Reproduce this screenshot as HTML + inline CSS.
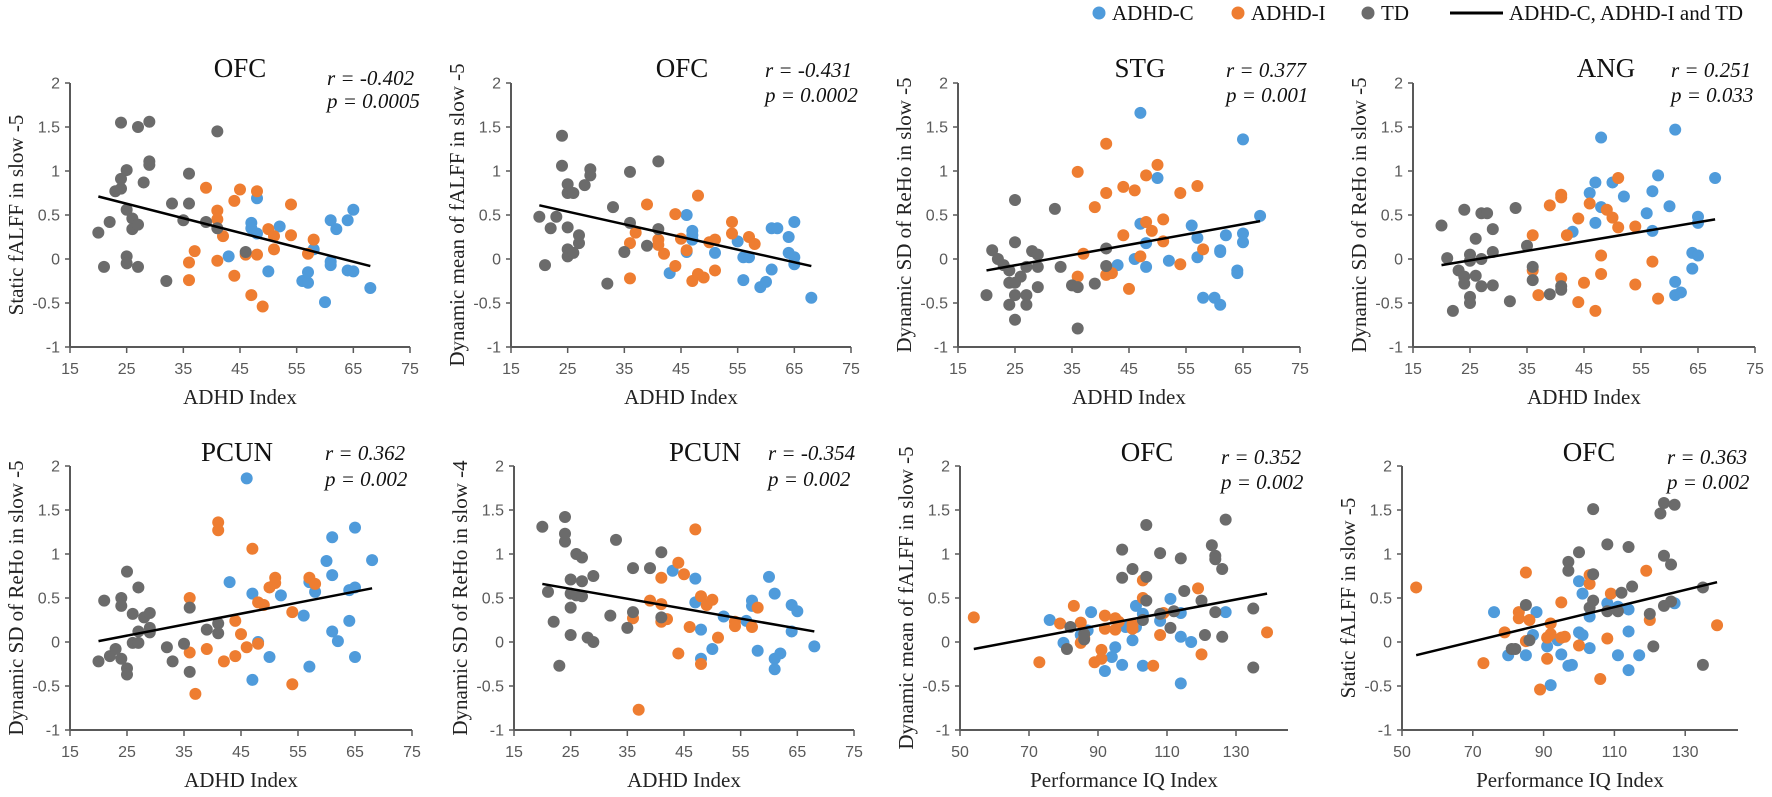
<!DOCTYPE html>
<html><head><meta charset="utf-8"><style>
html,body{margin:0;padding:0;background:#fff;}
svg{display:block;}
</style></head><body>
<svg id="fig" width="1772" height="797" viewBox="0 0 1772 797" xmlns="http://www.w3.org/2000/svg">
<g font-family="Liberation Serif, serif" font-size="21" fill="#111">
 <circle cx="1099" cy="13" r="6.5" fill="#4f9bdb"/>
 <text x="1112" y="20">ADHD-C</text>
 <circle cx="1238" cy="13" r="6.5" fill="#ee7d31"/>
 <text x="1251" y="20">ADHD-I</text>
 <circle cx="1368" cy="13" r="6.5" fill="#6b6b6b"/>
 <text x="1381" y="20">TD</text>
 <line x1="1450" y1="13" x2="1503" y2="13" stroke="#000" stroke-width="3"/>
 <text x="1509" y="20">ADHD-C, ADHD-I and TD</text>
</g>
</svg>
<script>
// ---- Panel 1 data ----
const p1TdX=[20,21,22,23,24,24,24,25,25,25,25,26,26,27,27,27,28,29,29,29,32,33,35,36,36,39,41,41,46];
const p1TdY=[0.30,-0.09,0.42,0.77,0.80,0.91,1.55,1.01,0.56,0.03,-0.05,0.46,0.34,1.50,-0.09,0.39,0.87,1.56,1.11,1.07,-0.25,0.63,0.44,0.63,0.97,0.42,1.45,0.35,0.08];
const p1AiX=[36,36,37,39,41,41,41,42,44,44,45,46,47,48,48,49,50,51,51,54,54,57,58];
const p1AiY=[-0.04,-0.24,0.09,0.81,0.55,0.45,-0.02,0.26,0.66,-0.19,0.79,0.05,-0.41,0.77,0.05,-0.54,0.34,0.26,0.11,0.62,0.27,0.06,0.22];
const p1AcX=[43,47,47,48,48,50,52,56,57,57,58,60,61,61,61,62,64,64,65,65,68];
const p1AcY=[0.03,0.41,0.35,0.69,0.29,-0.14,0.37,-0.25,-0.27,-0.15,0.11,-0.49,0.44,-0.03,-0.07,0.34,0.44,-0.13,0.56,-0.14,-0.33];
const p1FitX=[20,68];
const p1FitY=[0.71,-0.08];
// ---- Panel 2 ----
const p2TdX=[20,21,22,23,24,24,25,25,25,25,25,26,26,27,27,28,29,29,32,33,35,36,36,39,41,41];
const p2TdY=[0.48,-0.07,0.35,0.48,1.40,1.06,0.85,0.75,0.36,0.11,0.03,0.07,0.75,0.27,0.18,0.84,1.02,0.95,-0.28,0.59,0.08,0.99,0.41,0.15,1.11,0.34];
const p2AiX=[36,36,37,39,41,41,42,44,44,45,46,47,48,48,49,50,51,51,54,54,57,58];
const p2AiY=[-0.22,0.18,0.30,0.62,0.22,0.16,0.06,0.51,-0.08,0.23,0.10,-0.25,0.72,-0.17,-0.21,0.19,0.22,-0.13,0.42,0.29,0.25,0.17];
const p2AcX=[43,46,46,47,47,47,51,55,56,56,57,59,61,61,60,62,64,64,65,65,65,68];
const p2AcY=[-0.16,0.08,0.50,0.27,0.32,0.22,0.07,0.20,0.02,-0.24,0.02,-0.32,0.35,-0.12,-0.26,0.35,0.25,0.07,0.42,-0.06,0.02,-0.44];
const p2FitX=[20,68];
const p2FitY=[0.61,-0.08];
// ---- Panel 3 ----
const p3TdX=[20,21,22,23,24,24,24,25,25,25,25,26,27,27,27,28,29,29,29,32,33,35,36,36,39,41,41,25];
const p3TdY=[-0.41,0.10,0,-0.07,-0.13,-0.27,-0.52,0.19,-0.27,-0.41,-0.69,-0.20,-0.09,-0.41,-0.52,0.09,0.05,-0.09,-0.32,0.57,-0.09,-0.30,-0.32,-0.79,-0.28,0.12,-0.08,0.67];
const p3AiX=[36,36,37,39,41,41,41,42,44,44,45,46,47,48,48,49,50,51,51,54,54,57,58];
const p3AiY=[0.99,-0.20,0.06,0.59,1.31,0.75,-0.18,-0.16,0.82,0.27,-0.34,0.78,0.03,0.95,0.42,0.32,1.07,0.45,0.20,0.75,-0.06,0.83,0.11];
const p3AcX=[43,46,47,47,48,48,50,52,56,57,57,58,60,61,61,62,64,64,65,65,65,68,61];
const p3AcY=[-0.07,0,1.66,0.40,0.18,-0.09,0.92,-0.02,0.38,0.24,0.02,-0.44,-0.44,0.10,-0.52,0.27,-0.13,-0.16,1.36,0.29,0.19,0.49,0.08];
const p3FitX=[20,68];
const p3FitY=[-0.13,0.43];
// ---- Panel 4 ----
const p4TdX=[20,21,22,23,24,24,24,25,25,25,25,26,26,27,27,27,28,29,29,29,32,33,35,36,36,39,41,41];
const p4TdY=[0.38,0.01,-0.59,-0.13,0.56,-0.20,-0.28,0.05,-0.02,-0.43,-0.50,0.23,-0.19,0.52,0,-0.31,0.52,0.34,0.08,-0.30,-0.48,0.58,0.15,-0.09,-0.24,-0.40,-0.31,-0.35];
const p4AiX=[36,36,37,39,41,41,41,42,44,44,45,46,47,48,48,49,50,51,51,54,54,57,58];
const p4AiY=[0.27,-0.13,-0.41,0.61,0.73,0.70,-0.22,0.27,0.46,-0.49,-0.27,0.63,-0.59,0.04,-0.17,0.56,0.47,0.92,0.36,0.37,-0.29,-0.03,-0.45];
const p4AcX=[43,46,47,47,48,48,50,52,56,57,57,58,60,61,61,61,62,64,64,65,65,65,68];
const p4AcY=[0.31,0.75,0.87,0.41,1.38,0.59,0.87,0.71,0.52,0.77,0.32,0.95,0.60,1.47,-0.26,-0.41,-0.38,0.07,-0.11,0.48,0.41,0.04,0.92];
const p4FitX=[20,68];
const p4FitY=[-0.07,0.45];
// ---- Panel 5 ----
const p5TdX=[20,21,22,23,24,24,24,25,25,25,26,26,27,27,27,28,29,29,29,32,33,35,36,36,39,41,41];
const p5TdY=[-0.22,0.47,-0.16,-0.08,0.50,0.41,-0.19,0.80,-0.30,-0.37,0.32,-0.01,0.62,0.12,-0.01,0.28,0.33,0.16,0.11,-0.06,-0.22,-0.02,0.39,-0.34,0.14,0.21,0.10];
const p5AiX=[36,36,37,39,41,41,42,44,44,45,46,47,48,48,49,50,51,51,54,54,57,58];
const p5AiY=[0.50,-0.12,-0.59,-0.08,1.36,1.27,-0.22,0.24,-0.16,0.09,-0.06,1.06,0.45,-0.02,0.42,0.62,0.73,0.67,0.34,-0.48,0.73,0.66];
const p5AcX=[43,46,47,47,48,50,52,56,57,57,58,60,61,61,61,62,64,64,65,65,65,68];
const p5AcY=[0.68,1.86,0.55,-0.43,0,-0.17,0.53,0.30,0.68,-0.28,0.57,0.92,1.19,0.76,0.12,0.01,0.59,0.24,1.30,0.62,-0.17,0.93];
const p5FitX=[20,68];
const p5FitY=[0.01,0.61];
// ---- Panel 6 ----
const p6TdX=[20,21,22,23,24,24,24,25,25,25,25,26,26,27,27,27,28,29,29,32,33,35,36,36,39,41,41];
const p6TdY=[1.31,0.57,0.23,-0.27,1.42,1.23,1.14,0.71,0.55,0.39,0.08,1.0,0.53,0.96,0.69,0.52,0.05,0.75,0,0.30,1.16,0.16,0.84,0.34,0.84,1.02,0.28];
const p6AiX=[36,37,39,41,41,41,42,44,44,45,46,47,48,48,49,50,51,54,54,57,58];
const p6AiY=[0.27,-0.77,0.47,0.73,0.43,0.23,0.26,0.90,-0.13,0.77,0.17,1.28,0.52,-0.25,0.42,0.48,0.05,0.23,0.18,0.17,0.39];
const p6AcX=[43,47,47,48,48,50,52,56,57,57,58,60,61,61,61,62,64,64,65,68];
const p6AcY=[0.81,0.72,0.45,0.14,-0.19,-0.08,0.29,0.24,0.47,0.41,-0.10,0.74,0.55,-0.19,-0.31,-0.13,0.42,0.12,0.35,-0.05];
const p6FitX=[20,68];
const p6FitY=[0.66,0.12];
// ---- Panel 7 ----
const p7TdX=[81,82,86,86,97,97,100,103,104,104,104,108,108,111,112,114,115,120,121,123,124,124,124,126,126,127,135,135];
const p7TdY=[-0.08,0.17,0.03,0.09,1.05,0.73,0.83,0.25,1.33,0.74,0.47,1.01,0.32,0.16,0.35,0.95,0.58,0.47,0.08,1.10,0.98,0.94,0.34,0.83,0.06,1.39,0.38,-0.29];
const p7AiX=[54,73,79,83,85,85,86,89,91,91,92,92,95,95,96,100,100,103,103,106,108,109,119,120,139];
const p7AiY=[0.28,-0.23,0.21,0.41,0.22,-0.01,0.05,-0.23,-0.09,-0.19,0.30,0.15,0.27,0.14,0.23,0.20,0.15,0.70,0.50,-0.27,0.08,0.33,0.61,-0.14,0.11];
const p7AcX=[76,80,85,87,88,92,94,95,97,98,100,101,101,103,103,108,111,114,114,117,114,127];
const p7AcY=[0.25,-0.01,0.08,0.13,0.34,-0.33,-0.17,-0.06,-0.26,0.17,0.02,0.41,0.17,0.32,-0.27,0.24,0.49,0.33,0.06,0,-0.47,0.34];
const p7FitX=[54,139];
const p7FitY=[-0.08,0.55];
// ---- Panel 8 ----
const p8TdX=[81,82,85,86,97,97,100,103,104,104,104,108,108,111,112,114,115,120,121,123,124,124,124,126,126,127,135,135];
const p8TdY=[-0.08,-0.08,0.42,0.02,0.91,0.81,1.02,0.39,1.51,0.77,0.47,1.11,0.35,0.35,0.56,1.08,0.63,0.32,-0.05,1.46,1.58,0.98,0.41,0.88,0.46,1.56,0.62,-0.26];
const p8AiX=[54,73,79,83,83,85,85,86,89,91,91,92,92,95,95,96,100,103,103,106,108,109,119,120,139];
const p8AiY=[0.62,-0.24,0.11,0.34,0.27,0.79,0.01,0.25,-0.54,-0.19,0.05,0.21,0.09,0.45,0.05,0.06,-0.04,0.76,0.66,-0.42,0.04,0.55,0.81,0.25,0.19];
const p8AcX=[76,80,85,87,88,91,92,94,95,97,98,100,100,101,101,103,103,108,111,111,114,114,114,117,127];
const p8AcY=[0.34,-0.15,-0.15,0.08,0.34,-0.05,-0.49,0.02,-0.14,-0.27,-0.26,0.69,0.11,0.55,0.08,0.29,-0.07,0.44,0.40,-0.15,0.37,0.12,-0.32,-0.15,0.44];
const p8FitX=[54,139];
const p8FitY=[-0.15,0.68];

const yTicks=[2,1.5,1,0.5,0,-0.5,-1];
const adhdTicks=[15,25,35,45,55,65,75];
const iqTicks=[50,70,90,110,130];
const titles=["OFC","OFC","STG","ANG","PCUN","PCUN","OFC","OFC"];
const rVals=["-0.402","-0.431","0.377","0.251","0.362","-0.354","0.352","0.363"];
const pVals=["0.0005","0.0002","0.001","0.033","0.002","0.002","0.002","0.002"];
const yTitles=["Static fALFF in slow -5","Dynamic mean of fALFF in slow -5","Dynamic SD of ReHo in slow -5","Dynamic SD of ReHo in slow -5","Dynamic SD of ReHo in slow -5","Dynamic SD of ReHo in slow -4","Dynamic mean of fALFF in slow -5","Static fALFF in slow -5"];

const NS="http://www.w3.org/2000/svg";
const svg=document.getElementById('fig');
function mk(tag,attrs,parent,text){
  const e=document.createElementNS(NS,tag);
  for(const k in attrs)e.setAttribute(k,attrs[k]);
  if(text!==undefined)e.textContent=text;
  parent.appendChild(e);return e;
}
const layouts=[
 {L:70,R:410,T:83,B:347,xmin:15,xmax:75,ticks:adhdTicks,xt:"ADHD Index",tdx:170,sx:257,ry:78,py:101},
 {L:511,R:851,T:83,B:347,xmin:15,xmax:75,ticks:adhdTicks,xt:"ADHD Index",tdx:171,sx:254,ry:70,py:95},
 {L:958,R:1300,T:83,B:347,xmin:15,xmax:75,ticks:adhdTicks,xt:"ADHD Index",tdx:182,sx:268,ry:70,py:95},
 {L:1413,R:1755,T:83,B:347,xmin:15,xmax:75,ticks:adhdTicks,xt:"ADHD Index",tdx:193,sx:258,ry:70,py:95},
 {L:70,R:412,T:466,B:730,xmin:15,xmax:75,ticks:adhdTicks,xt:"ADHD Index",tdx:167,sx:255,ry:453,py:479},
 {L:514,R:854,T:466,B:730,xmin:15,xmax:75,ticks:adhdTicks,xt:"ADHD Index",tdx:191,sx:254,ry:453,py:479},
 {L:960,R:1288,T:466,B:730,xmin:50,xmax:145,ticks:iqTicks,xt:"Performance IQ Index",tdx:187,sx:261,ry:457,py:482,k:3.45},
 {L:1402,R:1738,T:466,B:730,xmin:50,xmax:145,ticks:iqTicks,xt:"Performance IQ Index",tdx:187,sx:265,ry:457,py:482,k:3.54}
];
const data=[
 [p1AcX,p1AcY,p1AiX,p1AiY,p1TdX,p1TdY,p1FitX,p1FitY],
 [p2AcX,p2AcY,p2AiX,p2AiY,p2TdX,p2TdY,p2FitX,p2FitY],
 [p3AcX,p3AcY,p3AiX,p3AiY,p3TdX,p3TdY,p3FitX,p3FitY],
 [p4AcX,p4AcY,p4AiX,p4AiY,p4TdX,p4TdY,p4FitX,p4FitY],
 [p5AcX,p5AcY,p5AiX,p5AiY,p5TdX,p5TdY,p5FitX,p5FitY],
 [p6AcX,p6AcY,p6AiX,p6AiY,p6TdX,p6TdY,p6FitX,p6FitY],
 [p7AcX,p7AcY,p7AiX,p7AiY,p7TdX,p7TdY,p7FitX,p7FitY],
 [p8AcX,p8AcY,p8AiX,p8AiY,p8TdX,p8TdY,p8FitX,p8FitY]
];
const colors=["#4f9bdb","#ee7d31","#6b6b6b"];
const groupNames=["adhd-c","adhd-i","td"];

layouts.forEach((lay,i)=>{
  const g=mk('g',{},svg);
  
  
  const k=lay.k||((lay.R-lay.L)/(lay.xmax-lay.xmin));
  const xs=v=>lay.L+(v-lay.xmin)*k;
  const ys=v=>lay.B-(v+1)*(lay.B-lay.T)/3;
  yTicks.forEach(t=>{
    const tl=mk('text',{x:lay.L-10,y:ys(t)+5.5,'text-anchor':'end','font-family':'Liberation Sans, sans-serif','font-size':'16',fill:'#595959'},g,String(t));
    
    
    const tk=mk('line',{x1:lay.L-5,x2:lay.L,y1:ys(t),y2:ys(t),stroke:'#595959','stroke-width':'1.5'},g);
    
    
  });
  lay.ticks.forEach(t=>{
    const tl=mk('text',{x:xs(t),y:lay.B+27,'text-anchor':'middle','font-family':'Liberation Sans, sans-serif','font-size':'16',fill:'#595959'},g,String(t));
    
    
    const tk=mk('line',{x1:xs(t),x2:xs(t),y1:lay.B,y2:lay.B+6,stroke:'#595959','stroke-width':'1.5'},g);
    
    
  });
  const ya=mk('line',{x1:lay.L,x2:lay.L,y1:lay.T,y2:lay.B,stroke:'#595959','stroke-width':'2'},g);
  
  
  const xa=mk('line',{x1:lay.L,x2:lay.R,y1:lay.B,y2:lay.B,stroke:'#595959','stroke-width':'2'},g);
  
  
  const xt=mk('text',{x:(lay.L+lay.R)/2,y:lay.B+57,'text-anchor':'middle','font-family':'Liberation Serif, serif','font-size':'21',fill:'#222'},g,lay.xt);
  
  
  const cy=(lay.T+lay.B)/2, cx=lay.L-52;
  const yt=mk('text',{x:cx,y:cy,'text-anchor':'middle','dominant-baseline':'middle',transform:'rotate(-90 '+cx+' '+cy+')','font-family':'Liberation Serif, serif','font-size':'21',fill:'#222'},g,yTitles[i]);
  
  
  const ti=mk('text',{x:lay.L+lay.tdx,y:(i<4?68:452)+9,'text-anchor':'middle','font-family':'Liberation Serif, serif','font-size':'27',fill:'#111'},g,titles[i]);
  
  
  const rt=mk('text',{x:lay.L+lay.sx,y:lay.ry+7,'font-family':'Liberation Serif, serif','font-size':'21','font-style':'italic',fill:'#111'},g,'r = '+rVals[i]);
  
  
  const pt=mk('text',{x:lay.L+lay.sx,y:lay.py+7,'font-family':'Liberation Serif, serif','font-size':'21','font-style':'italic',fill:'#111'},g,'p = '+pVals[i]);
  
  
  const d=data[i];
  for(let s=0;s<3;s++){
    const X=d[s*2],Y=d[s*2+1];
    for(let j=0;j<X.length;j++){
      const c=mk('circle',{cx:xs(X[j]),cy:ys(Y[j]),r:6,fill:colors[s]},g);
      
      
    }
  }
  const fl=mk('line',{x1:xs(d[6][0]),y1:ys(d[7][0]),x2:xs(d[6][1]),y2:ys(d[7][1]),stroke:'#000','stroke-width':'2.5'},g);
  
  
});
</script>
</body></html>
